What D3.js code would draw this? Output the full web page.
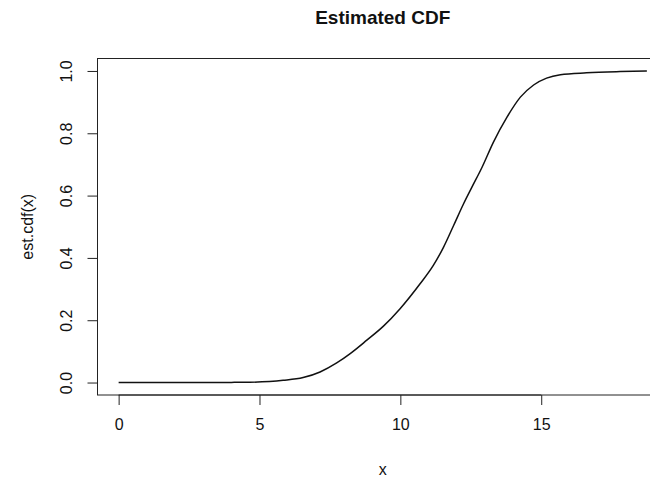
<!DOCTYPE html>
<html>
<head>
<meta charset="utf-8">
<script src="https://cdn.jsdelivr.net/npm/d3@7"></script>
<style>
  body { margin: 0; background: #fff; }
  svg { display: block; font-family: "Liberation Sans", Arial, sans-serif; }
</style>
</head>
<body>
<div id="chart"></div>
<script>
// values
var xVals = [0, 2, 4, 4.66, 5.84, 6.55, 7.15, 7.74, 8.22, 8.81, 9.40, 9.99, 10.70, 11.17, 11.53,
             11.89, 12.24, 12.54, 12.90, 13.30, 13.78, 14.26, 14.73, 15.19, 15.68, 16.61, 17.80, 18.75];
var cdfVals = [0, 0, 0.0005, 0.001, 0.007, 0.016, 0.034, 0.063, 0.093, 0.136, 0.181, 0.237, 0.317, 0.376, 0.434,
               0.504, 0.573, 0.627, 0.691, 0.771, 0.851, 0.916, 0.955, 0.977, 0.988, 0.994, 0.998, 1.0];
var xTicks = [0, 5, 10, 15];
var yTicks = [0, 0.2, 0.4, 0.6, 0.8, 1.0];

var W = 650, H = 478;
// plot region (right edge runs past the window, as in the original)
var plotLeft = 97.5, plotRight = 668, plotTop = 58.5, plotBottom = 395;

var svg = d3.select("#chart")
  .append("svg")
    .attr("width", W)
    .attr("height", H);

var data = xVals.map(function(v, i) { return {x: v, y: cdfVals[i]}; });

// R style 4% padding on both axes
var xr = d3.extent(xVals), xp = (xr[1] - xr[0]) * 0.04;
var x = d3.scaleLinear()
  .domain([xr[0] - xp, xr[1] + xp])
  .range([plotLeft, plotRight]);
var y = d3.scaleLinear()
  .domain([-0.04, 1.04])
  .range([plotBottom, plotTop]);

// box
svg.append("rect")
  .attr("x", plotLeft)
  .attr("y", plotTop)
  .attr("width", plotRight - plotLeft)
  .attr("height", plotBottom - plotTop)
  .attr("fill", "none")
  .attr("stroke", "#222")
  .attr("stroke-width", 1);

// x axis
var xAxis = svg.append("g")
  .attr("transform", "translate(0," + plotBottom + ")")
  .call(d3.axisBottom(x).tickValues(xTicks).tickSize(10).tickPadding(14).tickSizeOuter(0));
xAxis.select(".domain")
  .attr("d", "M" + x(xTicks[0]) + ",0H" + x(xTicks[xTicks.length - 1]))
  .attr("stroke", "#222");
xAxis.selectAll(".tick line").attr("stroke", "#222");
xAxis.selectAll(".tick text")
  .attr("font-size", 16)
  .attr("fill", "#111")
  .attr("font-family", "Liberation Sans, Arial, sans-serif");

// y axis, labels rotated like base R
var yAxis = svg.append("g")
  .attr("transform", "translate(" + plotLeft + ",0)")
  .call(d3.axisLeft(y).tickValues(yTicks).tickSize(10).tickFormat(d3.format(".1f")).tickSizeOuter(0));
yAxis.select(".domain")
  .attr("d", "M0," + y(yTicks[0]) + "V" + y(yTicks[yTicks.length - 1]))
  .attr("stroke", "#222");
yAxis.selectAll(".tick line").attr("stroke", "#222");
yAxis.selectAll(".tick text")
  .attr("font-size", 16)
  .attr("fill", "#111")
  .attr("font-family", "Liberation Sans, Arial, sans-serif")
  .attr("x", null)
  .attr("dy", null)
  .attr("text-anchor", "middle")
  .attr("transform", "translate(" + (72 - plotLeft) + ",0) rotate(-90)");

// the curve
svg.append("path")
  .datum(data)
  .attr("fill", "none")
  .attr("stroke", "#111")
  .attr("stroke-width", 1.5)
  .attr("d", d3.line()
    .curve(d3.curveMonotoneX)
    .x(function(d) { return x(d.x); })
    .y(function(d) { return y(d.y); })
  );

// title and axis titles
svg.append("text")
  .attr("x", (plotLeft + plotRight) / 2)
  .attr("y", 24)
  .attr("text-anchor", "middle")
  .attr("font-size", 19)
  .attr("font-weight", "bold")
  .attr("fill", "#111")
  .text("Estimated CDF");

svg.append("text")
  .attr("x", (plotLeft + plotRight) / 2)
  .attr("y", 475)
  .attr("text-anchor", "middle")
  .attr("font-size", 16)
  .attr("fill", "#111")
  .text("x");

svg.append("text")
  .attr("transform", "translate(33," + (plotTop + plotBottom) / 2 + ") rotate(-90)")
  .attr("text-anchor", "middle")
  .attr("font-size", 16)
  .attr("fill", "#111")
  .text("est.cdf(x)");
</script>
</body>
</html>
